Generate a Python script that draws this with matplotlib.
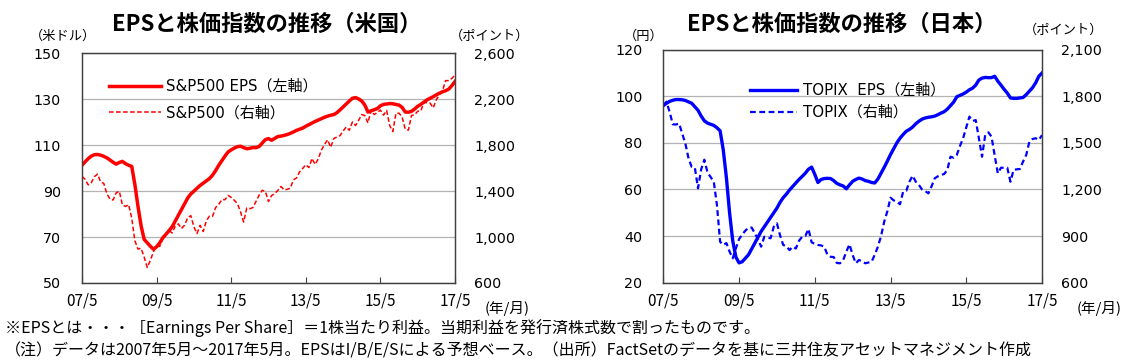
import numpy as np
import matplotlib.pyplot as plt

plt.rcParams['font.family'] = ['DejaVu Sans', 'Noto Sans CJK JP']

W, H = 1145, 361
JP = ['Noto Sans CJK JP', 'DejaVu Sans']

# months from 2007/5 to 2017/5
months = np.arange(121)
tick_months = [0, 24, 48, 72, 96, 120]
tick_labels = ["07/5", "09/5", "11/5", "13/5", "15/5", "17/5"]

us_eps = [101.3, 102.8, 104.2, 105.3, 105.9, 106.0, 105.7, 105.2, 104.5, 103.6, 102.6, 101.8,
          102.5, 103.0, 102.0, 101.3, 100.8, 93.0, 83.5, 75.0, 69.0, 67.5, 66.0, 64.7,
          65.8, 67.5, 69.7, 71.2, 72.8, 74.5, 77.0, 79.5, 82.0, 84.5, 87.0, 88.8,
          90.0, 91.3, 92.5, 93.5, 94.5, 95.5, 97.0, 99.0, 101.3, 103.3, 105.3, 107.1,
          108.0, 108.8, 109.4, 109.6, 109.0, 108.5, 108.7, 109.0, 109.0, 109.5, 111.0, 112.5,
          112.9, 112.2, 113.0, 113.8, 114.0, 114.3, 114.7, 115.2, 115.8, 116.5, 117.0, 117.5,
          118.3, 119.0, 119.7, 120.4, 121.0, 121.6, 122.2, 122.7, 123.1, 123.4, 124.2, 125.4,
          126.7, 128.0, 129.3, 130.5, 130.8, 130.2, 129.3, 127.5, 124.5, 125.0, 125.5, 126.0,
          127.2, 127.8, 128.0, 128.2, 128.1, 127.8, 127.5, 126.5, 124.5, 124.4, 124.8, 125.8,
          127.0, 127.8, 128.8, 129.8, 130.5, 131.2, 132.0, 132.7, 133.3, 133.8, 134.5, 136.0, 137.8]

sp500 = [1530, 1503, 1455, 1474, 1527, 1549, 1481, 1468,
         1379, 1331, 1323, 1386, 1400, 1280, 1267, 1283, 1166, 969, 896, 903,
         826, 735, 798, 873, 919, 919, 987, 1021, 1057, 1036, 1096, 1115,
         1074, 1104, 1169, 1187, 1089, 1031, 1102, 1049, 1141, 1183, 1181, 1258,
         1286, 1327, 1326, 1364, 1345, 1321, 1292, 1219, 1131, 1253, 1247, 1258,
         1312, 1366, 1408, 1398, 1310, 1362, 1379, 1407, 1441, 1412, 1416, 1426,
         1498, 1515, 1569, 1598, 1631, 1606, 1686, 1633, 1682, 1757, 1806, 1848,
         1783, 1859, 1872, 1884, 1924, 1960, 1931, 2003, 1972, 2018, 2068, 2059,
         1995, 2105, 2068, 2086, 2107, 2063, 2104, 1972, 1920, 2079, 2080, 2044,
         1940, 1932, 2060, 2065, 2097, 2099, 2174, 2171, 2168, 2126, 2199, 2239,
         2279, 2364, 2363, 2384, 2412]

jp_eps = [96.0, 97.0, 97.8, 98.3, 98.6, 98.6, 98.5, 98.2, 97.6, 97.0, 95.5, 94.0,
          91.5, 89.5, 88.5, 88.0, 87.5, 86.5, 85.2, 77.0, 65.0, 50.0, 38.0, 31.0,
          28.5, 29.0, 30.5, 32.0, 34.5, 37.0, 39.5, 42.0, 44.0, 46.0, 48.0, 50.0,
          52.0, 54.5, 56.5, 58.0, 59.8, 61.3, 62.8, 64.3, 65.6, 67.0, 68.7, 69.6,
          66.5, 63.0, 64.3, 64.7, 64.8, 64.7, 63.8, 62.6, 62.0, 61.5, 60.3, 62.0,
          63.5, 64.3, 64.9, 64.5, 63.8, 63.5, 63.0, 62.8, 64.5, 67.0, 69.5, 72.2,
          75.0, 77.5, 80.0, 82.0, 83.6, 85.0, 85.8, 86.8, 88.2, 89.3, 90.2, 90.7,
          91.0, 91.2, 91.5, 92.1, 92.8, 93.4, 94.5, 96.0, 97.5, 99.8, 100.4, 101.0,
          101.8, 102.8, 103.5, 104.8, 107.0, 107.8, 108.1, 108.0, 108.0, 108.6, 106.5, 104.8,
          103.0, 101.4, 99.3, 99.1, 99.1, 99.3, 99.5, 100.7, 102.2, 103.7, 105.8, 108.6, 110.0]

topix = [1740, 1765, 1700, 1620, 1618, 1625, 1560, 1495, 1400, 1345, 1340, 1208,
         1330, 1392, 1310, 1280, 1250, 1100, 864, 843, 855, 800, 757, 821,
         880, 910, 935, 954, 955, 918, 880, 832, 896, 890, 886, 960,
         982, 905, 843, 835, 810, 832, 820, 870, 896, 900, 946, 860,
         850, 843, 840, 832, 780, 767, 765, 727, 725, 746, 800, 847,
         778, 725, 746, 738, 725, 730, 735, 780, 832, 900, 993, 1060,
         1147, 1130, 1121, 1105, 1186, 1192, 1250, 1289, 1250, 1229, 1200, 1190,
         1175, 1220, 1272, 1285, 1293, 1300, 1326, 1411, 1405, 1422, 1480, 1530,
         1600, 1669, 1641, 1647, 1530, 1411, 1551, 1568, 1540, 1420, 1304, 1340,
         1340, 1340, 1250, 1326, 1330, 1332, 1380, 1422, 1508, 1525, 1530, 1519, 1550]


def box(x0, y0, x1, y1):
    return [x0 / W, 1 - y1 / H, (x1 - x0) / W, (y1 - y0) / H]


def ftext(x, y, s, **kw):
    fig.text(x / W, 1 - y / H, s, va='center', **kw)


def style(ax, ax2, yticks, yticks2):
    ax.set_xlim(0, 120)
    ax.set_xticks(tick_months)
    ax.set_xticklabels(tick_labels, family=JP, fontsize=11)
    ax.set_yticks(yticks)
    ax.set_ylim(yticks[0], yticks[-1])
    ax2.set_yticks(yticks2)
    ax2.set_ylim(yticks2[0], yticks2[-1])
    ax2.set_yticklabels([f"{v:,}" for v in yticks2])
    ax.yaxis.grid(True, color='#b3b3b3', lw=0.9)
    ax.set_axisbelow(True)
    for a in (ax, ax2):
        for s in a.spines.values():
            s.set_color('#404040')
            s.set_linewidth(0.9)
    ax.tick_params(axis='x', direction='in', length=4, pad=7, color='#404040')
    ax.tick_params(axis='y', direction='in', length=0, pad=15, labelsize=10.3)
    ax2.tick_params(axis='y', direction='in', length=0, pad=14, labelsize=10.3)


fig = plt.figure(figsize=(W / 100, H / 100), dpi=100)

# ---- US ----
ax = fig.add_axes(box(82, 53.5, 455, 283))
ax2 = ax.twinx()
l1, = ax.plot(months, us_eps, color='#ff0000', lw=2.5, solid_joinstyle='round')
l2, = ax2.plot(months, sp500, color='#ff0000', lw=1.1, dashes=(3, 1.6))
style(ax, ax2, [50, 70, 90, 110, 130, 150], [600, 1000, 1400, 1800, 2200, 2600])
fig.legend([l1, l2], ["S&P500 EPS（左軸）", "S&P500（右軸）"], loc='upper left',
           bbox_to_anchor=(109 / W, 1 - 79 / H), frameon=False, fontsize=10.8,
           handlelength=3.45, handletextpad=0.35, labelspacing=0.78, borderpad=0,
           borderaxespad=0)
ftext(267, 24, "EPSと株価指数の推移（米国）", ha='center', fontsize=16,
      fontweight='bold', family=JP)
ftext(63, 36, "（米ドル）", ha='center', fontsize=9.5, family=JP)
ftext(490, 36, "（ポイント）", ha='center', fontsize=9.5, family=JP)
ftext(507, 309, "(年/月)", ha='center', fontsize=10.5, family=JP)

# ---- Japan ----
bx = fig.add_axes(box(663.3, 49.7, 1042, 282.7))
bx2 = bx.twinx()
m1, = bx.plot(months, jp_eps, color='#0000ff', lw=2.4, solid_joinstyle='round')
m2, = bx2.plot(months, topix, color='#0000ff', lw=1.6, dashes=(2.6, 1.6))
style(bx, bx2, [20, 40, 60, 80, 100, 120], [600, 900, 1200, 1500, 1800, 2100])
fig.legend([m1, m2], ["TOPIX  EPS（左軸）", "TOPIX（右軸）"], loc='upper left',
           bbox_to_anchor=(750 / W, 1 - 83 / H), frameon=False, fontsize=10.8,
           handlelength=3.15, handletextpad=0.4, labelspacing=0.45, borderpad=0,
           borderaxespad=0)
ftext(842, 24, "EPSと株価指数の推移（日本）", ha='center', fontsize=16,
      fontweight='bold', family=JP)
ftext(644, 36, "（円）", ha='center', fontsize=9.5, family=JP)
ftext(1064, 30, "（ポイント）", ha='center', fontsize=9.5, family=JP)
ftext(1099, 309, "(年/月)", ha='center', fontsize=10.5, family=JP)

# ---- notes ----
ftext(5, 328, "※EPSとは・・・［Earnings Per Share］＝1株当たり利益。当期利益を発行済株式数で割ったものです。",
      ha='left', fontsize=11.5, family=JP)
ftext(5, 351, "（注）データは2007年5月～2017年5月。EPSはI/B/E/Sによる予想ベース。（出所）FactSetのデータを基に三井住友アセットマネジメント作成",
      ha='left', fontsize=11.5, family=JP)

fig.savefig("out.png", dpi=100)
